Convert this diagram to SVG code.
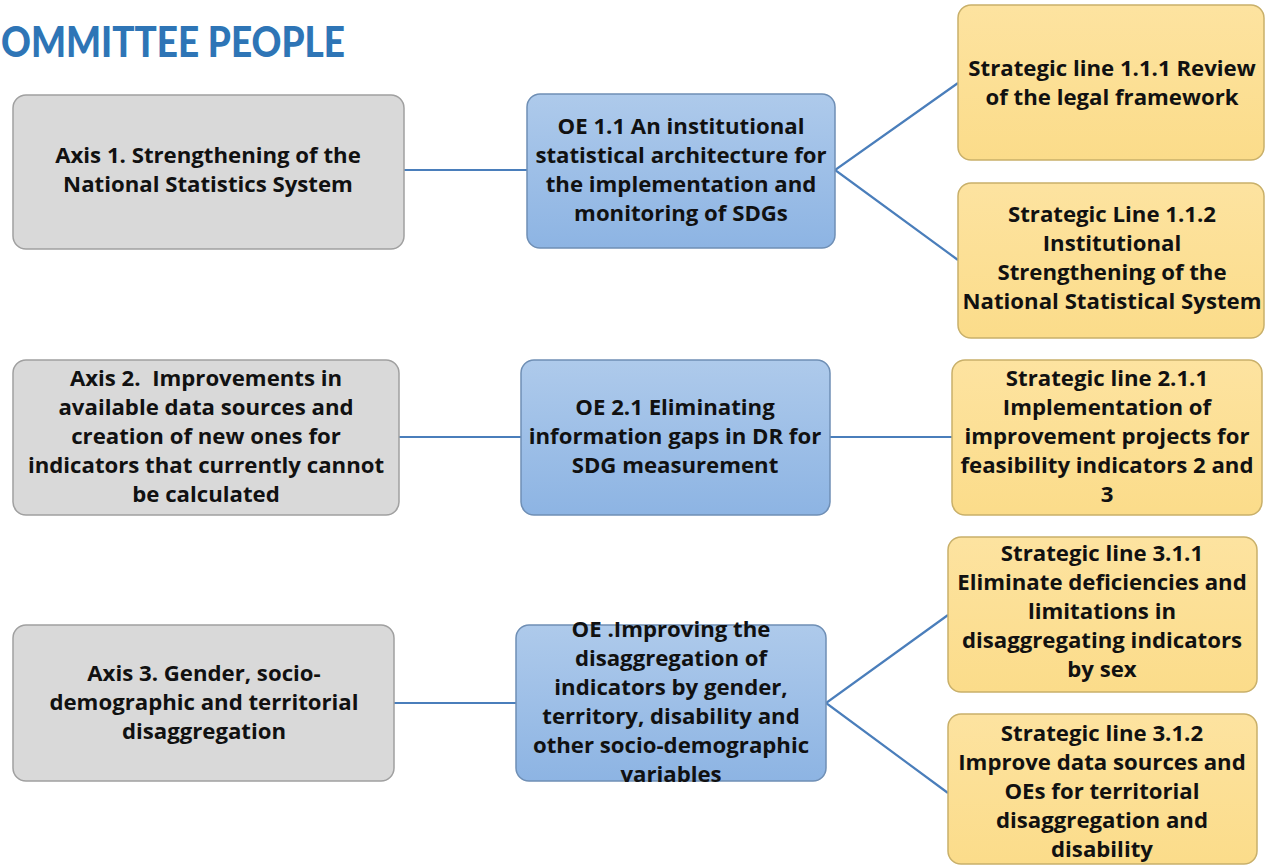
<svg xmlns="http://www.w3.org/2000/svg" width="1265" height="865" viewBox="0 0 1265 865">
<defs>
<linearGradient id="gBlue" x1="0" y1="0" x2="0" y2="1">
<stop offset="0" stop-color="#AECAEB"/>
<stop offset="1" stop-color="#8DB4E3"/>
</linearGradient>
<linearGradient id="gYel" x1="0" y1="0" x2="0" y2="1">
<stop offset="0" stop-color="#FDE3A0"/>
<stop offset="1" stop-color="#FBDC8A"/>
</linearGradient>
</defs>
<style>
.t{font-family:"Open Sans","Liberation Sans",sans-serif;font-weight:bold;font-size:22.2px;fill:#111;text-anchor:middle}
.gray{fill:#D9D9D9;stroke:#A0A0A0;stroke-width:1.5}
.blue{fill:url(#gBlue);stroke:#6F8FB5;stroke-width:1.5}
.yel{fill:url(#gYel);stroke:#C9B06A;stroke-width:1.5}
.c{stroke:#4A7EBB;stroke-width:2.2;fill:none}
</style>
<rect width="1265" height="865" fill="#fff"/>
<text x="1" y="57" font-family="Lato,'Liberation Sans',sans-serif" font-weight="900" font-size="42" fill="#2E75B6" textLength="344" lengthAdjust="spacingAndGlyphs">OMMITTEE PEOPLE</text>
<g id="connectors">
<line class="c" x1="404" y1="170" x2="527" y2="170"/>
<polyline class="c" points="958,83 835,170 958,260"/>
<line class="c" x1="399" y1="437" x2="521" y2="437"/>
<line class="c" x1="830" y1="437" x2="952" y2="437"/>
<line class="c" x1="394" y1="703" x2="516" y2="703"/>
<polyline class="c" points="948,615 826,703 948,793"/>
</g>
<g id="axis1"><rect class="gray" x="13" y="95" width="391" height="154" rx="13"/>
<text class="t" x="208" y="163">Axis 1. Strengthening of the</text>
<text class="t" x="208" y="192">National Statistics System</text></g>
<g id="oe11"><rect class="blue" x="527" y="94" width="308" height="154" rx="13"/>
<text class="t" x="681" y="134">OE 1.1 An institutional</text>
<text class="t" x="681" y="163">statistical architecture for</text>
<text class="t" x="681" y="192">the implementation and</text>
<text class="t" x="681" y="221">monitoring of SDGs</text></g>
<g id="sl111"><rect class="yel" x="958" y="5" width="306" height="155" rx="13"/>
<text class="t" x="1112" y="76">Strategic line 1.1.1 Review</text>
<text class="t" x="1112" y="105">of the legal framework</text></g>
<g id="sl112"><rect class="yel" x="958" y="183" width="306" height="155" rx="13"/>
<text class="t" x="1112" y="222">Strategic Line 1.1.2</text>
<text class="t" x="1112" y="251">Institutional</text>
<text class="t" x="1112" y="280">Strengthening of the</text>
<text class="t" x="1112" y="309">National Statistical System</text></g>
<g id="axis2"><rect class="gray" x="13" y="360" width="386" height="155" rx="13"/>
<text class="t" x="206" y="386" xml:space="preserve">Axis 2.  Improvements in</text>
<text class="t" x="206" y="415">available data sources and</text>
<text class="t" x="206" y="444">creation of new ones for</text>
<text class="t" x="206" y="473">indicators that currently cannot</text>
<text class="t" x="206" y="502">be calculated</text></g>
<g id="oe21"><rect class="blue" x="521" y="360" width="309" height="155" rx="13"/>
<text class="t" x="675" y="415">OE 2.1 Eliminating</text>
<text class="t" x="675" y="444">information gaps in DR for</text>
<text class="t" x="675" y="473">SDG measurement</text></g>
<g id="sl211"><rect class="yel" x="952" y="360" width="310" height="155" rx="13"/>
<text class="t" x="1107" y="386">Strategic line 2.1.1</text>
<text class="t" x="1107" y="415">Implementation of</text>
<text class="t" x="1107" y="444">improvement projects for</text>
<text class="t" x="1107" y="473">feasibility indicators 2 and</text>
<text class="t" x="1107" y="502">3</text></g>
<g id="axis3"><rect class="gray" x="13" y="625" width="381" height="156" rx="13"/>
<text class="t" x="204" y="681">Axis 3. Gender, socio-</text>
<text class="t" x="204" y="710">demographic and territorial</text>
<text class="t" x="204" y="739">disaggregation</text></g>
<g id="oe3"><rect class="blue" x="516" y="625" width="310" height="156" rx="13"/>
<text class="t" x="671" y="637">OE .Improving the</text>
<text class="t" x="671" y="666">disaggregation of</text>
<text class="t" x="671" y="695">indicators by gender,</text>
<text class="t" x="671" y="724">territory, disability and</text>
<text class="t" x="671" y="753">other socio-demographic</text>
<text class="t" x="671" y="782">variables</text></g>
<g id="sl311"><rect class="yel" x="948" y="537" width="309" height="155" rx="13"/>
<text class="t" x="1102" y="561">Strategic line 3.1.1</text>
<text class="t" x="1102" y="590">Eliminate deficiencies and</text>
<text class="t" x="1102" y="619">limitations in</text>
<text class="t" x="1102" y="648">disaggregating indicators</text>
<text class="t" x="1102" y="677">by sex</text></g>
<g id="sl312"><rect class="yel" x="948" y="714" width="309" height="150" rx="13"/>
<text class="t" x="1102" y="741">Strategic line 3.1.2</text>
<text class="t" x="1102" y="770">Improve data sources and</text>
<text class="t" x="1102" y="799">OEs for territorial</text>
<text class="t" x="1102" y="828">disaggregation and</text>
<text class="t" x="1102" y="857">disability</text></g>
</svg>
